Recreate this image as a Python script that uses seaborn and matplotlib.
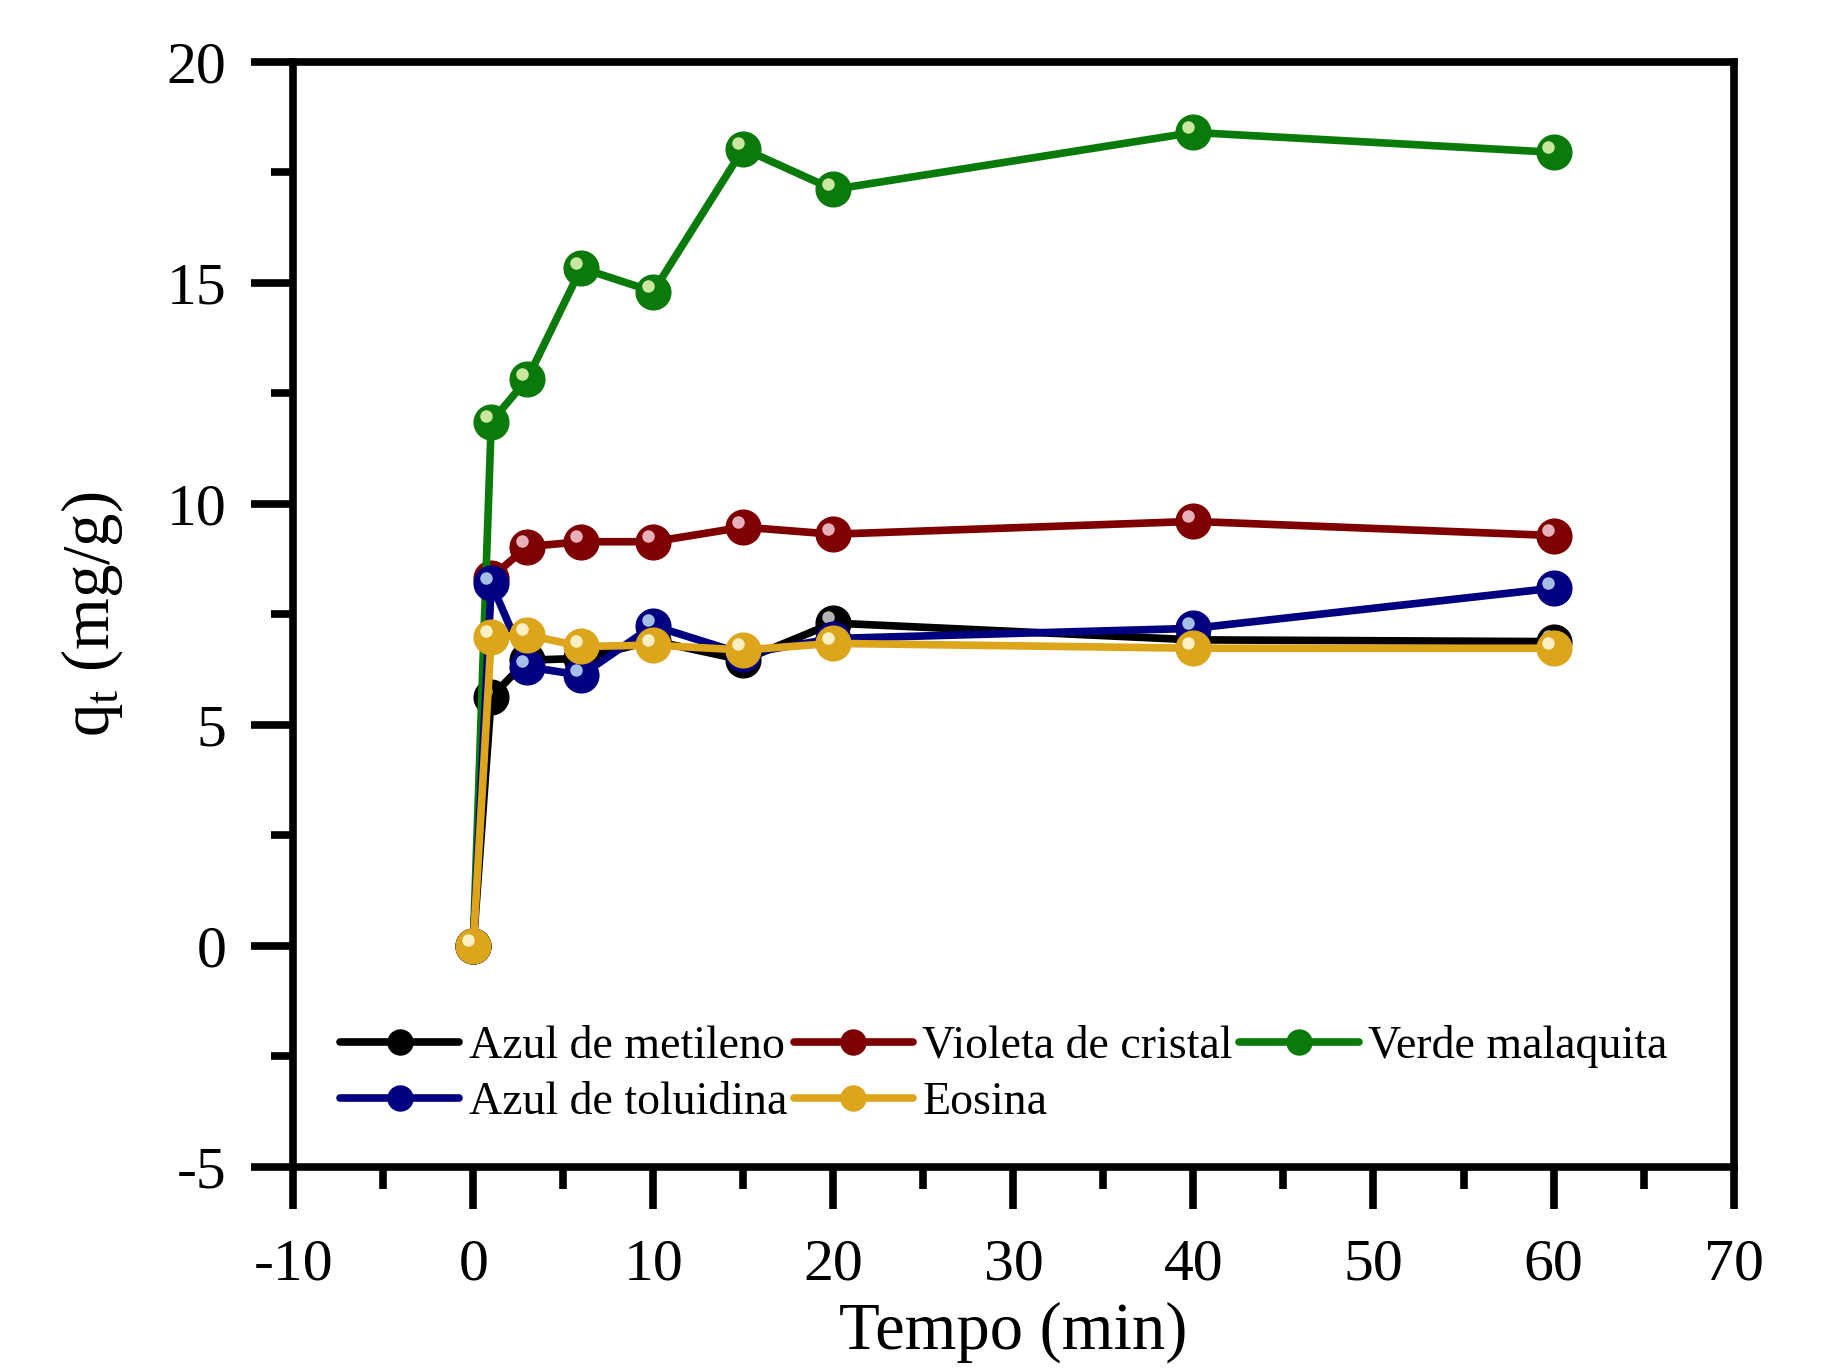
import numpy as np
import pandas as pd
import matplotlib
matplotlib.use("Agg")
import matplotlib.pyplot as plt
import matplotlib.transforms as mtransforms
from matplotlib.lines import Line2D
import seaborn as sns

# ---- data ----
tempo = [0, 1, 3, 6, 10, 15, 20, 40, 60]
azul_metileno = [0, 5.63, 6.46, 6.50, 6.90, 6.46, 7.30, 6.92, 6.88]
violeta_cristal = [0, 8.33, 9.03, 9.14, 9.14, 9.47, 9.31, 9.60, 9.28]
verde_malaquita = [0, 11.85, 12.82, 15.33, 14.80, 18.03, 17.11, 18.40, 17.95]
azul_toluidina = [0, 8.20, 6.31, 6.12, 7.24, 6.60, 6.95, 7.18, 8.09]
eosina = [0, 6.99, 7.03, 6.77, 6.80, 6.69, 6.84, 6.73, 6.73]

series_names = ["Azul de metileno", "Violeta de cristal", "Verde malaquita",
                "Azul de toluidina", "Eosina"]
series_values = [azul_metileno, violeta_cristal, verde_malaquita, azul_toluidina, eosina]
colors = ["#000000", "#7f0000", "#0a7a0a", "#000080", "#dca51c"]
highlights = ["#c8c8c8", "#f4c4d0", "#e0f4b0", "#b8d4f4", "#fff8d8"]

x_ticks = [-10, 0, 10, 20, 30, 40, 50, 60, 70]
y_ticks = [-5, 0, 5, 10, 15, 20]

sns.set_theme(style="ticks")
plt.rcParams['font.family'] = ['Liberation Serif', 'DejaVu Serif']
plt.rcParams['mathtext.fontset'] = 'custom'
plt.rcParams['mathtext.rm'] = 'Liberation Serif'
plt.rcParams['mathtext.it'] = 'Liberation Serif:italic'
plt.rcParams['text.color'] = 'black'
plt.rcParams['axes.labelcolor'] = 'black'
plt.rcParams['xtick.color'] = 'black'
plt.rcParams['ytick.color'] = 'black'

fig = plt.figure(figsize=(18.21, 13.71), dpi=100)
ax = fig.add_axes([0.161, 0.149, 0.791, 0.806])

for i, (name, vals) in enumerate(zip(series_names, series_values)):
    df = pd.DataFrame({"t": tempo, "q": vals})
    sns.lineplot(data=df, x="t", y="q", ax=ax, color=colors[i], linewidth=5.5,
                 marker="o", markersize=25, markeredgecolor=colors[i],
                 markeredgewidth=1.0, zorder=3 + i, legend=False)
    off = mtransforms.offset_copy(ax.transData, fig=fig, x=-4, y=4, units='points')
    ax.plot(tempo, vals, linestyle="none", marker="o", markersize=9,
            color=highlights[i], markeredgewidth=0, alpha=0.9,
            transform=off, zorder=3 + i + 0.5)

ax.set_xlim(-10, 70)
ax.set_ylim(-5, 20)
ax.set_xticks(x_ticks)
ax.set_yticks(y_ticks)
ax.set_xticks(np.arange(-5, 70, 10), minor=True)
ax.set_yticks(np.arange(-2.5, 20, 5), minor=True)
ax.set_xticklabels([str(v) for v in x_ticks])
ax.set_yticklabels([str(v) for v in y_ticks])

for sp in ax.spines.values():
    sp.set_visible(True)
    sp.set_linewidth(5.5)
    sp.set_color("black")

ax.tick_params(axis='both', which='major', direction='out', length=30, width=5.5,
               labelsize=43, colors='black')
ax.tick_params(axis='both', which='minor', direction='out', length=16, width=5.5)
ax.tick_params(axis='x', which='major', pad=22)
ax.tick_params(axis='y', which='major', pad=18)
ax.tick_params(top=False, right=False, which='both')

ax.set_xlabel("Tempo (min)", fontsize=48, labelpad=6)
ax.set_ylabel(r"q$_\mathregular{t}$ (mg/g)", fontsize=48, labelpad=30)

# legend in row-major order
order = [0, 3, 1, 4, 2]
handles = []
for i in order:
    handles.append(Line2D([], [], color=colors[i], linewidth=5.5, marker="o",
                          markersize=18, markeredgecolor=colors[i]))
labels = [series_names[i] for i in order]
ax.legend(handles, labels, ncol=3, loc='lower left', bbox_to_anchor=(0.02, 0.022),
          frameon=False, fontsize=33, handlelength=2.6, handletextpad=0.2,
          columnspacing=0.15, labelspacing=0.3, borderaxespad=0)

fig.savefig("out.png", dpi=100, facecolor='white')
